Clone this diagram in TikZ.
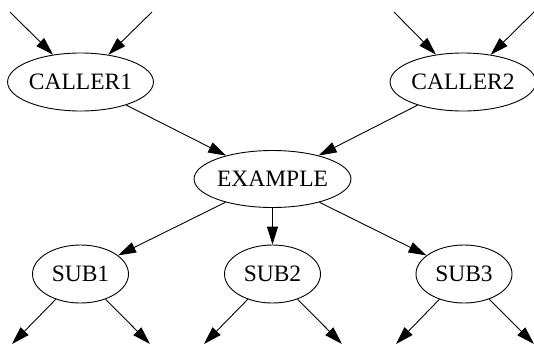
\documentclass[tikz,border=0pt]{standalone}
\usepackage{fontspec}
\setmainfont{Liberation Serif}
\usetikzlibrary{shapes.geometric,arrows.meta}
\begin{document}
\begin{tikzpicture}[x=1pt,y=-1pt,
  gnode/.style={draw,ellipse,inner sep=0pt,line width=0.9pt,font=\fontsize{23.5}{28}\selectfont},
  callbox/.style={gnode,minimum width=144pt,minimum height=58pt},
  exbox/.style={gnode,minimum width=155pt,minimum height=57pt},
  subbox/.style={gnode,minimum width=96pt,minimum height=58pt},
  edge/.style={draw,line width=0.9pt,-{Triangle[length=18pt,width=11pt]}}]
\useasboundingbox (0,0) rectangle (534,343);
\clip (0,0) rectangle (534,343);
\node[callbox] (c1) at (80.5,82) {CALLER1};
\node[callbox] (c2) at (463,82) {CALLER2};
\node[exbox] (ex) at (272.5,179) {EXAMPLE};
\node[subbox] (s1) at (80.5,274) {SUB1};
\node[subbox] (s2) at (272.5,274) {SUB2};
\node[subbox] (s3) at (464,274) {SUB3};
\coordinate (i1) at (10,12);
\coordinate (i2) at (152,12);
\coordinate (i3) at (394,12);
\coordinate (i4) at (534,12);
\coordinate (o1) at (12,344);
\coordinate (o2) at (150,344);
\coordinate (o3) at (204,344);
\coordinate (o4) at (342,344);
\coordinate (o5) at (396,344);
\coordinate (o6) at (534,344);
\path[edge] (i1) -- (c1);
\path[edge] (i2) -- (c1);
\path[edge] (i3) -- (c2);
\path[edge] (i4) -- (c2);
\path[edge] (c1) -- (ex);
\path[edge] (c2) -- (ex);
\path[edge] (ex) -- (s1);
\path[edge] (ex) -- (s2);
\path[edge] (ex) -- (s3);
\path[edge] (s1) -- (o1);
\path[edge] (s1) -- (o2);
\path[edge] (s2) -- (o3);
\path[edge] (s2) -- (o4);
\path[edge] (s3) -- (o5);
\path[edge] (s3) -- (o6);
\end{tikzpicture}
\end{document}
